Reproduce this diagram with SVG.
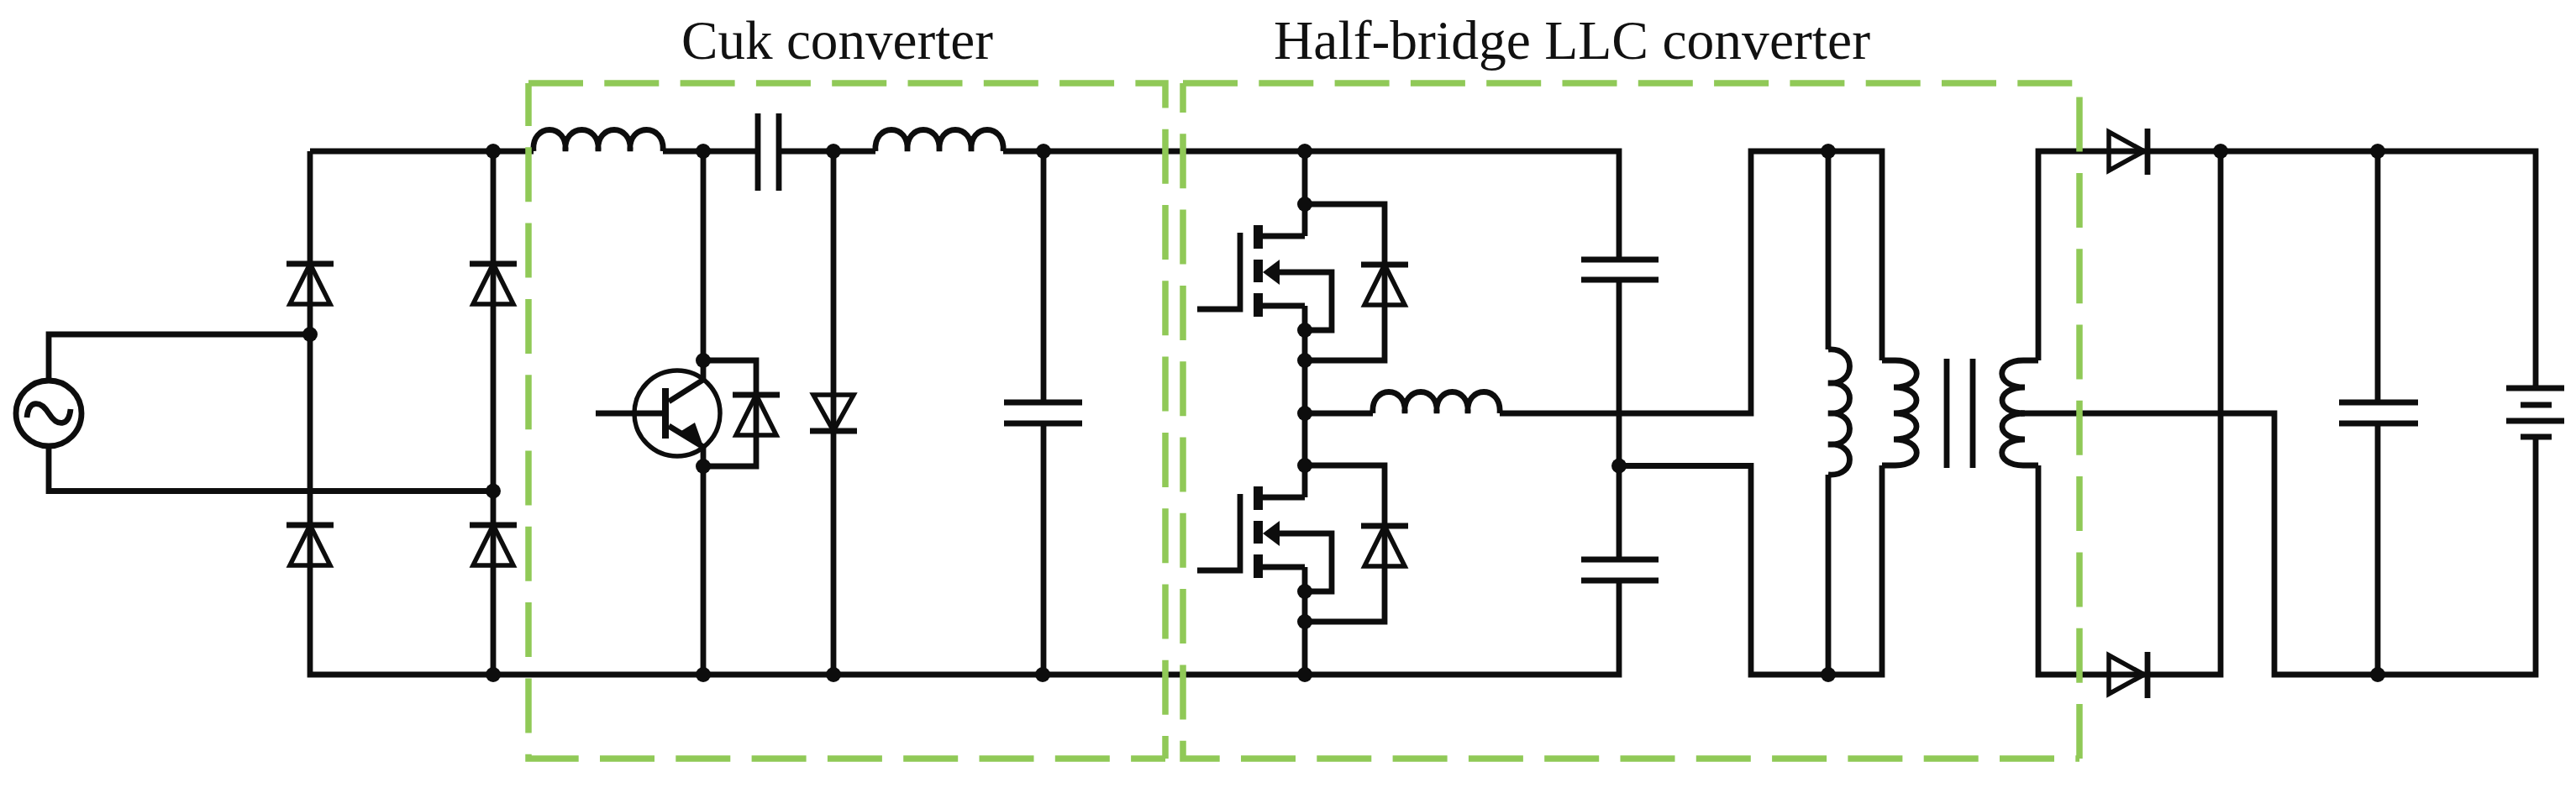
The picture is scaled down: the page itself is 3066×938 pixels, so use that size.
<svg xmlns="http://www.w3.org/2000/svg" width="3066" height="938" viewBox="0 0 3066 938">
<style>
.w{fill:none;stroke:#0d0d0d;stroke-width:6.8;stroke-linejoin:miter;stroke-linecap:butt}
.t{fill:none;stroke:#0d0d0d;stroke-width:5.5}
.k{fill:#0d0d0d;stroke:none}
.g{fill:none;stroke:#90c957;stroke-width:7.5;stroke-dasharray:65 25.3}
text{font-family:"Liberation Serif","Times New Roman",serif;font-size:65px;fill:#111}
</style>
<defs>
<circle id="dot" r="9" class="k"/>
<g id="dup"><path class="w" d="M-28,0H28"/><path class="t" d="M0,0L-24,48H24Z"/></g>
<g id="mos">
<path class="k" d="M1492,268h11v28h-11zM1492,309h11v27h-11zM1492,349h11v28h-11z"/>
<path class="k" d="M1503,324L1523,309V339Z"/>
<path class="w" d="M1425,368H1476V277M1503,281H1553M1503,364H1553M1520,324H1585V393H1553"/>
</g>
</defs>
<rect width="3066" height="938" fill="#fff"/>
<g id="connectors">
<path class="w" d="M369,180H635M789,180H902M927,180H1042M1194,180H1927V309M1927,333V666M1927,691V803H369V180"/>
<path class="w" d="M587,180V803"/>
<path class="w" d="M58,453V398H369M58,531V584.5H587"/>
<path class="w" d="M837,180V452M837,532V803M837,429H900V555H837"/>
<path class="w" d="M992,180V803"/>
<path class="w" d="M1242,180V479M1242,504V803"/>
<path class="w" d="M1553,180V281M1553,364V592M1553,675V803"/>
<path class="w" d="M1553,243H1648V429H1553"/>
<path class="w" d="M1553,554H1648V740H1553"/>
<path class="w" d="M1553,492H1634M1785,492H2084V180H2240V429M2240,554V803H2084V554.5H1927"/>
<path class="w" d="M2176,180V416M2176,565V803"/>
<path class="w" d="M2426,429V180H3018V462M3018,520V803H2707V492H2405M2426,554V803H2643V180"/>
<path class="w" d="M2830,180V479M2830,504V803"/>
</g>
<g id="ac-source"><circle class="w" cx="58" cy="492" r="39"/><path class="w" d="M32,497C34,476 48,476 58,492C68,508 82,508 84,487"/></g>
<g id="bridge-diodes">
<use href="#dup" x="369" y="314"/><use href="#dup" x="587" y="314"/><use href="#dup" x="369" y="625"/><use href="#dup" x="587" y="625"/>
</g>
<g id="inductor-1"><path class="w" d="M635,180c-3,-34 41,-34 38,0c-3,-34 42,-34 39,0c-3,-34 41,-34 38,0c-3,-34 42,-34 39,0"/></g>
<g id="capacitor-series"><path class="w" d="M902,135V227M927,135V227"/></g>
<g id="inductor-2"><path class="w" d="M1042,180c-3,-34 41,-34 38,0c-3,-34 41,-34 38,0c-3,-34 41,-34 38,0c-3,-34 41,-34 38,0"/></g>
<g id="bjt">
<circle class="t" cx="806" cy="492" r="51"/>
<path class="w" d="M709,492H790M796,478L837,452M796,507L837,532"/>
<path class="k" d="M788,462h8v60h-8zM838,534L827,503L806,516Z"/>
</g>
<g id="bjt-diode"><use href="#dup" x="900" y="470"/></g>
<g id="diode-cuk"><path class="t" d="M968,470H1016L992,513Z"/><path class="w" d="M964,513H1020"/></g>
<g id="capacitor-cuk"><path class="w" d="M1195,479H1288M1195,504H1288"/></g>
<g id="mosfet-high"><use href="#mos"/><use href="#dup" x="1648" y="315"/></g>
<g id="mosfet-low"><use href="#mos" y="311"/><use href="#dup" x="1648" y="626"/></g>
<g id="inductor-resonant"><path class="w" d="M1634,492c-3,-34 41,-34 38,0c-3,-34 41,-34 38,0c-3,-34 40,-34 37,0c-3,-34 41,-34 38,0"/></g>
<g id="capacitor-res-1"><path class="w" d="M1882,309H1974M1882,333H1974"/></g>
<g id="capacitor-res-2"><path class="w" d="M1882,666H1974M1882,691H1974"/></g>
<g id="inductor-magnetizing"><path class="w" d="M2176,416c34,-3 34,43 0,40c34,-3 34,39 0,36c34,-3 34,40 0,37c34,-3 34,39 0,36"/></g>
<g id="transformer">
<path class="w" d="M2240,429H2256C2290,429 2290,461 2254,461C2290,461 2290,492 2254,492C2290,492 2290,523 2254,523C2290,523 2290,554 2256,554H2240"/>
<path class="w" d="M2317,427V557M2348,427V557"/>
<path class="w" d="M2426,429H2408C2374,429 2374,461 2410,461C2374,461 2374,492 2410,492C2374,492 2374,523 2410,523C2374,523 2374,554 2408,554H2426"/>
</g>
<g id="diode-out-1"><path class="t" d="M2510,157V203L2552,180Z"/><path class="w" d="M2556,153V208"/></g>
<g id="diode-out-2"><path class="t" d="M2510,780V826L2552,803Z"/><path class="w" d="M2556,776V831"/></g>
<g id="capacitor-out"><path class="w" d="M2784,479H2878M2784,504H2878"/></g>
<g id="battery"><path class="w" d="M2983,462H3052M3000,482H3037M2983,501H3052M3000,520H3037"/></g>
<g id="junctions">
<use href="#dot" x="369" y="398"/><use href="#dot" x="587" y="180"/><use href="#dot" x="587" y="584.5"/><use href="#dot" x="587" y="803"/>
<use href="#dot" x="837" y="180"/><use href="#dot" x="837" y="429"/><use href="#dot" x="837" y="555"/><use href="#dot" x="837" y="803"/>
<use href="#dot" x="992" y="180"/><use href="#dot" x="992" y="803"/><use href="#dot" x="1242" y="180"/><use href="#dot" x="1241" y="803"/>
<use href="#dot" x="1553" y="180"/><use href="#dot" x="1553" y="243"/><use href="#dot" x="1553" y="393"/><use href="#dot" x="1553" y="429"/><use href="#dot" x="1553" y="492"/>
<use href="#dot" x="1553" y="554"/><use href="#dot" x="1553" y="704"/><use href="#dot" x="1553" y="740"/><use href="#dot" x="1553" y="803"/>
<use href="#dot" x="1927" y="554.5"/><use href="#dot" x="2176" y="180"/><use href="#dot" x="2176" y="803"/>
<use href="#dot" x="2643" y="180"/><use href="#dot" x="2830" y="180"/><use href="#dot" x="2830" y="803"/>
</g>
<g id="box-cuk">
<path class="g" d="M629,99H1387V903"/>
<path class="g" stroke-dashoffset="14" d="M629,99V903H1387"/>
<text x="811" y="70" textLength="371" lengthAdjust="spacingAndGlyphs">Cuk converter</text>
</g>
<g id="box-llc">
<path class="g" d="M1408,99H2475V903"/>
<path class="g" stroke-dashoffset="30" d="M1408,99V903H2475"/>
<text x="1516" y="70" textLength="710" lengthAdjust="spacingAndGlyphs">Half-bridge LLC converter</text>
</g>
</svg>
